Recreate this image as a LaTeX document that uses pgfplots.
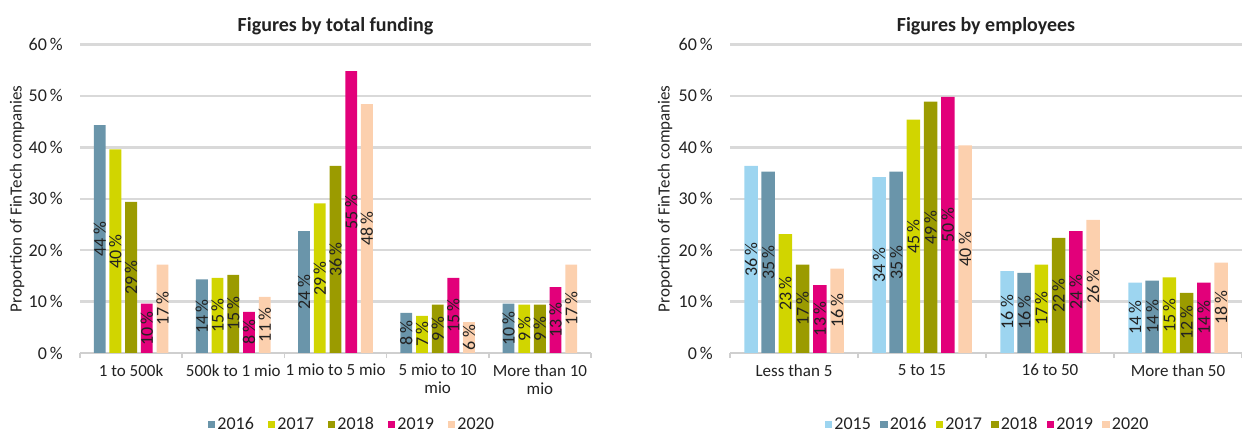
\documentclass[border=0pt]{standalone}
\usepackage{fontspec}
\setmainfont{Carlito}
\usepackage{graphicx}
\usepackage{pgfplots}
\pgfplotsset{compat=1.18}
\definecolor{c2015}{HTML}{9DD5F0}
\definecolor{c2016}{HTML}{6A95AA}
\definecolor{c2017}{HTML}{D1D500}
\definecolor{c2018}{HTML}{9B9B00}
\definecolor{c2019}{HTML}{E2007A}
\definecolor{c2020}{HTML}{FCD0AE}
\definecolor{cGrid}{HTML}{D9D9D9}
\definecolor{cAxis}{HTML}{CFCFCF}
\definecolor{cText}{HTML}{222222}
\newcommand{\fs}{\fontsize{18bp}{18bp}\selectfont}
\pgfplotsset{
  /pgf/number format/assume math mode=true,
  sq/.style={draw=none, legend image code/.code={\fill[##1] (0bp,-3.75bp) rectangle (7.5bp,3.75bp);}},
  common/.style={
    scale only axis, height=308.5bp,
    ymin=0, ymax=60, ytick={0,10,...,60},
    yticklabel={\pgfmathprintnumber{\tick}\,\%},
    enlargelimits=false,
    axis x line*=bottom, axis y line*=left,
    y axis line style={draw=none},
    x axis line style={draw=cAxis, line width=1.5bp},
    ymajorgrids, major grid style={draw=cGrid, line width=2.5bp},
    major tick length=0pt, minor tick length=5bp, tick align=outside,
    minor tick style={draw=cAxis, line width=1.5bp},
    every tick label/.append style={font=\fs, text=cText},
    yticklabel style={inner sep=0pt, xshift=-17bp, anchor=east},
    xticklabel style={anchor=north, inner sep=0pt, yshift=-11bp, align=center, font=\fontsize{17bp}{18bp}\selectfont},
    title style={font=\bfseries\fontsize{20bp}{22bp}\selectfont, text=cText, at={(0.5,1)}, anchor=center, yshift=12bp},
    ylabel={Proportion of FinTech companies},
    nodes near coords={\rotatebox{90}{\pgfmathprintnumber[fixed,precision=0]{\pgfplotspointmeta}\,\%}},
    point meta=y,
    visualization depends on={rawy \as \rawy},
    every node near coord/.append style={anchor=center, yshift=-\rawy*2.5708bp, font=\fs, text=cText, inner sep=0pt},
    legend style={draw=none, fill=none, font=\fs, text=cText, legend columns=-1, inner sep=0pt,
      nodes={inner sep=2bp}},
  },
}
\begin{document}
\begin{tikzpicture}
\useasboundingbox (0,0) rectangle (1242bp,434bp);
\begin{axis}[common, at={(80bp,81bp)}, anchor=south west, width=511bp,
  ybar=3.9bp, bar width=11.8bp,
  xmin=-0.5, xmax=4.5, xtick={0,...,4},
  xticklabels={{1 to 500k},{500k to 1 mio},{1 mio to 5 mio},{5 mio to 10\\mio},{More than 10\\mio}},
  minor xtick={-0.5,0.5,...,4.5},
  title={Figures by total funding},
  every axis y label/.style={at={(axis description cs:0,0.5)}, xshift=-63bp, rotate=90, anchor=center, font=\fontsize{17bp}{18bp}\selectfont, text=cText},
  legend style={at={(0.25,-0.232)}, anchor=west, /tikz/every even column/.append style={column sep=12bp}},
]
\addplot[sq, fill=c2016] coordinates {(0,44.3) (1,14.3) (2,23.7) (3,7.8) (4,9.6)};
\addplot[sq, fill=c2017] coordinates {(0,39.6) (1,14.6) (2,29.1) (3,7.2) (4,9.4)};
\addplot[sq, fill=c2018] coordinates {(0,29.4) (1,15.2) (2,36.4) (3,9.4) (4,9.4)};
\addplot[sq, fill=c2019] coordinates {(0,9.6) (1,8.0) (2,54.8) (3,14.6) (4,12.8)};
\addplot[sq, fill=c2020] coordinates {(0,17.2) (1,10.9) (2,48.4) (3,6.0) (4,17.2)};
\legend{2016,2017,2018,2019,2020}
\end{axis}
\begin{axis}[common, at={(730bp,81bp)}, anchor=south west, width=512bp,
  ybar=3.7bp, bar width=13.5bp,
  xmin=-0.5, xmax=3.5, xtick={0,...,3},
  xticklabels={{Less than 5},{5 to 15},{16 to 50},{More than 50}},
  minor xtick={-0.5,0.5,...,3.5},
  title={Figures by employees},
  every axis y label/.style={at={(axis description cs:0,0.5)}, xshift=-65bp, rotate=90, anchor=center, font=\fontsize{17bp}{18bp}\selectfont, text=cText},
  legend style={at={(0.185,-0.232)}, anchor=west, /tikz/every even column/.append style={column sep=7.5bp}},
]
\addplot[sq, fill=c2015] coordinates {(0,36.4) (1,34.2) (2,15.9) (3,13.7)};
\addplot[sq, fill=c2016] coordinates {(0,35.3) (1,35.3) (2,15.6) (3,14.1)};
\addplot[sq, fill=c2017] coordinates {(0,23.1) (1,45.4) (2,17.2) (3,14.7)};
\addplot[sq, fill=c2018] coordinates {(0,17.2) (1,48.9) (2,22.4) (3,11.7)};
\addplot[sq, fill=c2019] coordinates {(0,13.2) (1,49.8) (2,23.7) (3,13.7)};
\addplot[sq, fill=c2020] coordinates {(0,16.4) (1,40.4) (2,25.9) (3,17.6)};
\legend{2015,2016,2017,2018,2019,2020}
\end{axis}
\end{tikzpicture}
\end{document}
